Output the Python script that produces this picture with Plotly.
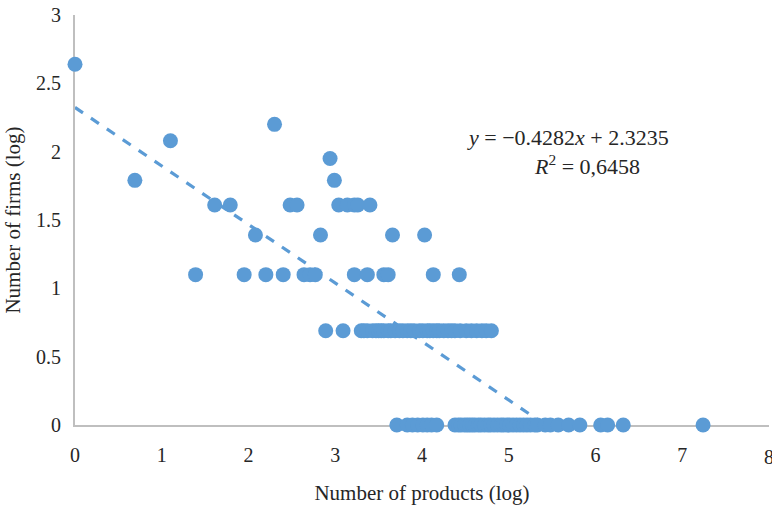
import plotly.graph_objects as go

# ---- data (log values) ----
x_264 = [0.00]
x_220 = [2.30]
x_208 = [1.10]
x_195 = [2.94]
x_179 = [0.69, 2.99]
x_161 = [1.61, 1.79, 2.48, 2.56, 3.04, 3.14, 3.22, 3.26, 3.40]
x_139 = [2.08, 2.83, 3.66, 4.03]
x_110 = [1.39, 1.95, 2.20, 2.40, 2.64, 2.71, 2.77, 3.22, 3.37, 3.56, 3.61, 4.13, 4.43]
x_069 = [2.89, 3.09, 3.30, 3.33, 3.37, 3.43, 3.47, 3.50, 3.53, 3.56, 3.61, 3.64,
         3.69, 3.74, 3.78, 3.83, 3.87, 3.91, 3.97, 4.01, 4.06, 4.09, 4.13, 4.17,
         4.20, 4.25, 4.30, 4.34, 4.38, 4.44, 4.51, 4.57, 4.63, 4.69, 4.74, 4.80]
x_000 = [3.71, 3.83, 3.89, 3.95, 4.01, 4.06, 4.11, 4.17, 4.38, 4.42, 4.45, 4.49,
         4.52, 4.55, 4.58, 4.61, 4.65, 4.68, 4.72, 4.76, 4.79, 4.83, 4.87, 4.91,
         4.94, 4.98, 5.01, 5.05, 5.09, 5.13, 5.17, 5.21, 5.25, 5.30, 5.33, 5.42,
         5.48, 5.57, 5.69, 5.82, 6.06, 6.14, 6.32, 7.24]

rows = [(2.64, x_264), (2.20, x_220), (2.08, x_208), (1.95, x_195), (1.79, x_179),
        (1.61, x_161), (1.39, x_139), (1.10, x_110), (0.69, x_069), (0.00, x_000)]

slope = -0.4282
intercept = 2.3235
trend_x = [0.0, -intercept / slope]
trend_y = [slope * v + intercept for v in trend_x]

xs, ys = [], []
for yv, xl in rows:
    xs += xl
    ys += [yv] * len(xl)

x_ticks = [0, 1, 2, 3, 4, 5, 6, 7, 8]
y_ticks = [0, 0.5, 1, 1.5, 2, 2.5, 3]
y_tick_text = ["0", "0.5", "1", "1.5", "2", "2.5", "3"]

blue = "#5B9BD5"
font_family = "Liberation Serif"
txt = "#262626"

fig = go.Figure()
fig.add_trace(go.Scatter(x=trend_x, y=trend_y, mode="lines",
                         line=dict(color=blue, width=3.2, dash="dash"),
                         cliponaxis=False, hoverinfo="skip"))
fig.add_trace(go.Scatter(x=xs, y=ys, mode="markers",
                         marker=dict(color=blue, size=15, line=dict(width=0)),
                         cliponaxis=False))

fig.update_layout(
    width=772, height=508,
    margin=dict(l=75, r=3, t=15, b=83),
    plot_bgcolor="white", paper_bgcolor="white",
    showlegend=False,
    font=dict(family=font_family, color=txt, size=20),
    xaxis=dict(range=[0, 8], tickvals=x_ticks, showgrid=False, zeroline=False,
               showline=True, linecolor="#BFBFBF", linewidth=2, layer="below traces",
               ticks="", ticklabelstandoff=11, tickfont=dict(size=20), automargin=False,
               title=dict(text="Number of products (log)", font=dict(size=21), standoff=20)),
    yaxis=dict(range=[0, 3], tickvals=y_ticks, ticktext=y_tick_text, showgrid=False,
               zeroline=False, showline=True, linecolor="#BFBFBF", linewidth=2,
               layer="below traces", ticks="", ticklabelstandoff=8, tickfont=dict(size=20),
               automargin=False,
               title=dict(text="Number of firms (log)", font=dict(size=21), standoff=10)),
    annotations=[
        dict(x=0.711, y=2.107, xref="paper", yref="y", xanchor="center", yanchor="middle",
             text="<i>y</i> = −0.4282<i>x</i> + 2.3235", showarrow=False,
             font=dict(size=22, family=font_family, color=txt)),
        dict(x=0.738, y=1.90, xref="paper", yref="y", xanchor="center", yanchor="middle",
             text="<i>R</i><sup>2</sup> = 0,6458", showarrow=False,
             font=dict(size=22, family=font_family, color=txt)),
        # last x tick label, which the page edge cuts in the reference
        dict(x=x_ticks[-1], y=0, xref="x", yref="paper", xanchor="center", yanchor="middle",
             yshift=-32, text=str(x_ticks[-1]), showarrow=False,
             font=dict(size=20, family=font_family, color=txt)),
    ],
)

fig.write_html("out.html", config={"displayModeBar": False},
               post_script="document.body.style.margin='0';document.body.style.padding='0';")
